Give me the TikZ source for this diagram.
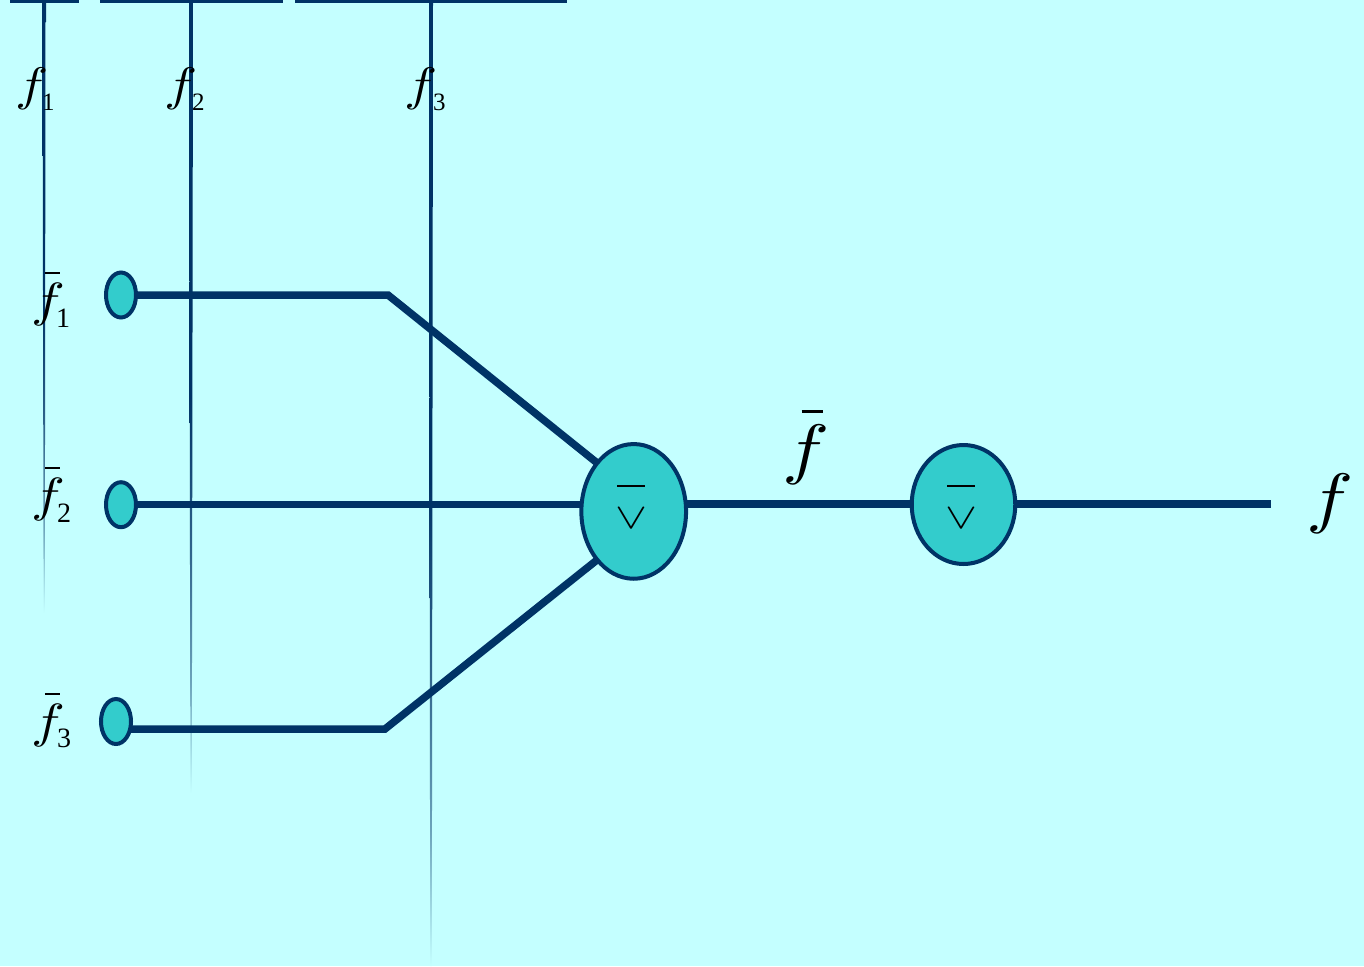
\documentclass[tikz,border=0pt]{standalone}
\usepackage{fontspec}
\setmainfont{Liberation Serif}
\usetikzlibrary{shapes.geometric,backgrounds}
\definecolor{pagebg}{HTML}{C4FFFF}
\definecolor{gatefill}{HTML}{33CCCC}
\definecolor{navy}{HTML}{003366}
\pgfdeclareverticalshading{taperfade}{100bp}{
  color(0bp)=(pagebg); color(25bp)=(pagebg); color(32bp)=(navy!45!pagebg); color(40bp)=(navy!75!pagebg); color(50bp)=(navy); color(100bp)=(navy)}
\newcommand{\bigmath}[3]{\scalebox{\fpeval{#1/10}}[\fpeval{#2/10}]{\fontsize{10}{10}\selectfont$#3$}}
\newcommand{\plainf}[1]{\bigmath{\fpeval{#1*1.18}}{#1}{f}}
\newcommand{\barf}[1]{{\fontsize{#1}{#1}\selectfont\rlap{\hspace{0.29em}\raisebox{0.87em}{\rule{0.31em}{0.04em}}}\plainf{#1}}}
\newcommand{\subnum}[2]{{\fontsize{#1}{#1}\selectfont #2}}
\newcommand{\orsym}{\bigmath{48}{36}{\vee}}
\tikzset{
  gate/.style={ellipse,draw=navy,line width=4pt,fill=gatefill,inner sep=0pt,outer sep=0pt,text=black},
  wire/.style={draw=navy,line width=7.5pt},
  busbar/.style={draw=navy,line width=4pt},
  lbl/.style={inner sep=0pt,outer sep=0pt,text=black,anchor=base west},
}
\begin{document}
\begin{tikzpicture}[x=1pt,y=-1pt]
\useasboundingbox (0,0) rectangle (1364,966);
% gates
\node[gate,minimum width=30pt,minimum height=45pt] (s1) at (121,295) {};
\node[gate,minimum width=30pt,minimum height=45pt] (s2) at (121,504.7) {};
\node[gate,minimum width=30pt,minimum height=45pt] (s3) at (116,721.5) {};
\node[gate,minimum width=104.7pt,minimum height=134.7pt] (g1) at (633.7,511.4) {};
\node[gate,minimum width=103.5pt,minimum height=119pt] (g2) at (963.5,504.5) {};
\node[inner sep=0pt,text=black] (o1) at (631,518) {\orsym};
\node[inner sep=0pt,text=black] (o2) at (961,518) {\orsym};
% coordinates
\coordinate (e1) at (388,295);
\coordinate (e3) at (385,729);
\coordinate (out) at (1271,504);
\coordinate (b1a) at (10,1.3); \coordinate (b1b) at (79,1.3);
\coordinate (b2a) at (100,1.3); \coordinate (b2b) at (283,1.3);
\coordinate (b3a) at (295,1.3); \coordinate (b3b) at (567,1.3);
% labels
\node[lbl] (t1) at (15,100) {\plainf{47}};
\node[lbl] (t1s) at (42,110) {\subnum{25}{1}};
\node[lbl] (t2) at (164,100) {\plainf{47}};
\node[lbl] (t2s) at (192,110) {\subnum{25}{2}};
\node[lbl] (t3) at (404,100) {\plainf{47}};
\node[lbl] (t3s) at (433,110) {\subnum{25}{3}};
\node[lbl] (n1) at (31,316) {\barf{48}};
\node[lbl] (n1s) at (56,327) {\subnum{28}{1}};
\node[lbl] (n2) at (31,511) {\barf{48}};
\node[lbl] (n2s) at (57,522) {\subnum{28}{2}};
\node[lbl] (n3) at (31,737) {\barf{48}};
\node[lbl] (n3s) at (57,747.5) {\subnum{28}{3}};
\node[lbl] (fb) at (782.3,471) {\barf{67}};
\node[lbl] (fo) at (1306,520) {\plainf{67}};
\begin{pgfonlayer}{background}
\fill[pagebg] (0,0) rectangle (1364,966);
\draw[busbar] (b1a) -- (b1b);
\draw[busbar] (b2a) -- (b2b);
\draw[busbar] (b3a) -- (b3b);
\shade[shading=taperfade] (42,0) -- (46,0) -- (46,22) -- (45.5,22) -- (44.8,613) -- (43.6,613) -- (42.5,22) -- (42,22) -- cycle;
\shade[shading=taperfade] (189,0) -- (193,0) -- (191.8,793) -- (190.4,793) -- cycle;
\shade[shading=taperfade] (429,0) -- (433,0) -- (431.8,966) -- (430.2,966) -- cycle;
\draw[wire] (s1.east) -- (e1) -- (g1.127);
\draw[wire] (s2.east) -- (g1.west |- s2.east);
\draw[wire] (s3.east |- e3) -- (e3) -- (g1.233);
\draw[wire] (g1.east |- out) -- (g2.west |- out);
\draw[wire] (g2.east |- out) -- (out);
\end{pgfonlayer}
\draw[black,line width=1.6pt] (617,486) -- (645,486);
\draw[black,line width=1.6pt] (947,486) -- (975,486);
\end{tikzpicture}
\end{document}
